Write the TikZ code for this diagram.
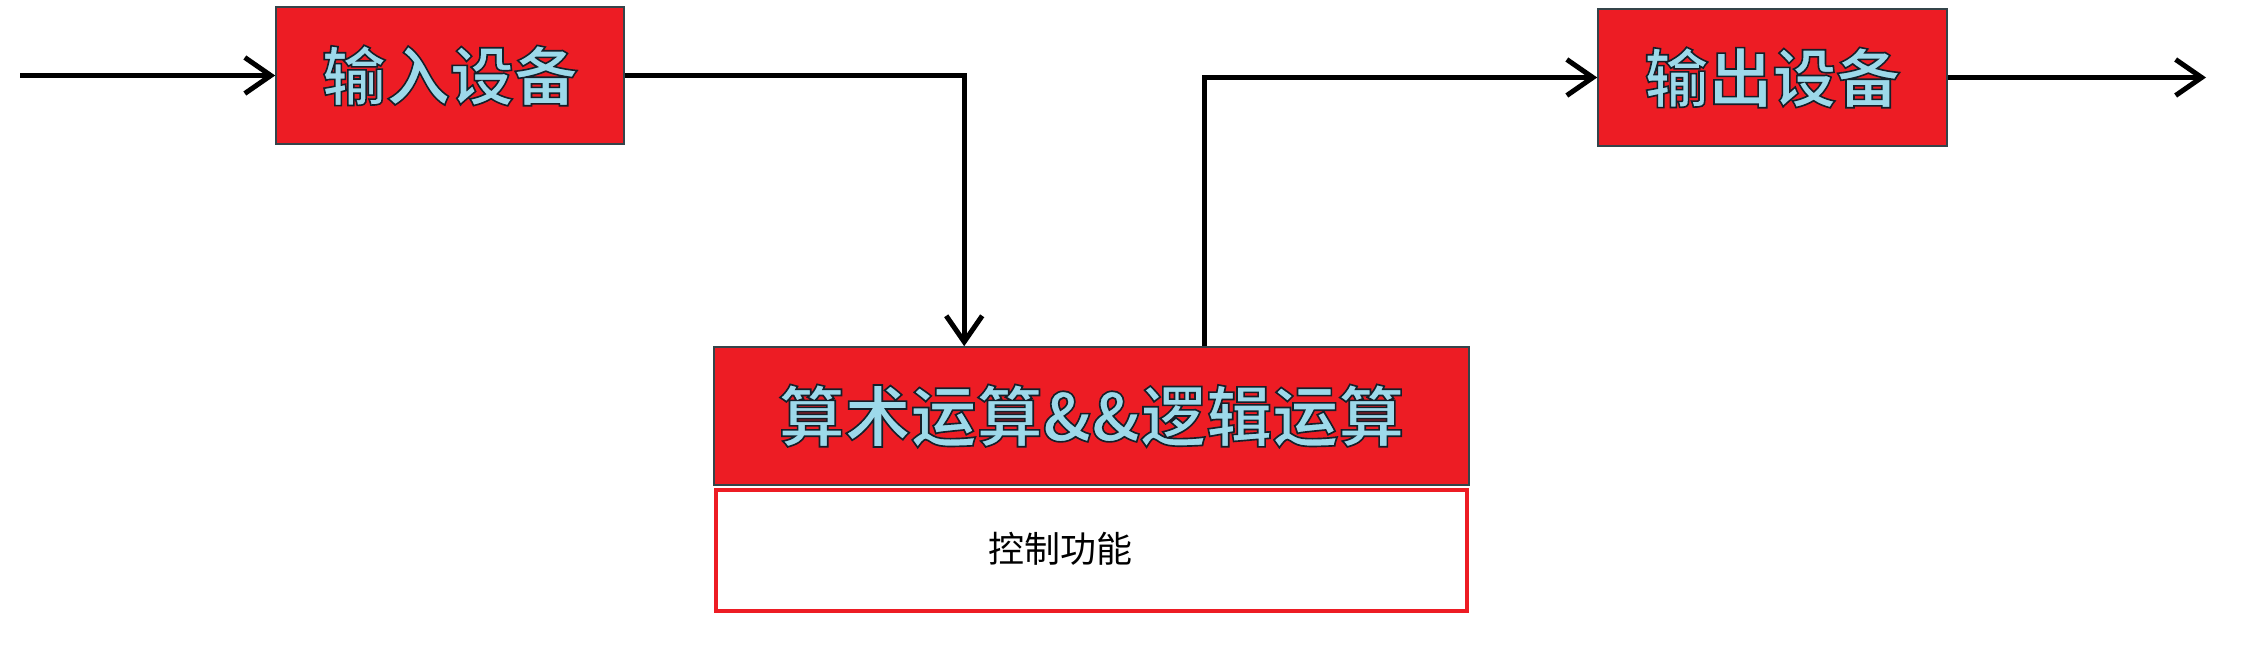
\documentclass[tikz,border=0pt]{standalone}
\usepackage{fontspec}
\setmainfont{Noto Sans CJK SC}
\newfontfamily\artfont[FakeBold=2.5,UprightFont=* Bold]{Noto Sans CJK SC}
\usetikzlibrary{arrows.meta}
\definecolor{boxred}{HTML}{ED1C24}
\definecolor{artblue}{HTML}{9DD9EA}
\definecolor{boxedge}{HTML}{34444A}
\newcommand{\arttext}[1]{{\artfont\color{artblue}\special{pdf:literal direct 0.08 0.12 0.16 RG}#1}}
\tikzset{
  devbox/.style={draw=boxedge, line width=1.6pt, fill=boxred, inner sep=0pt},
  ctrlbox/.style={draw=boxred, line width=4pt, fill=white, inner sep=0pt},
  conn/.style={line width=5pt, -{Straight Barb[length=26pt,width=36pt]}}
}
\begin{document}
\begin{tikzpicture}[x=1pt,y=-1pt]
\useasboundingbox (0,0) rectangle (2258,669);
\node[devbox, minimum width=348pt, minimum height=137pt, font=\fontsize{64}{70}\selectfont] (in) at (450,75.5) {\arttext{输入设备}};
\node[devbox, minimum width=349pt, minimum height=137pt, font=\fontsize{64}{70}\selectfont] (out) at (1772.5,77.5) {\arttext{输出设备}};
\node[devbox, minimum width=755pt, minimum height=138pt, font=\fontsize{66}{74}\selectfont] (arith) at (1091.5,416) {\arttext{算术运算\&\&逻辑运算}};
\node[ctrlbox, minimum width=751pt, minimum height=121pt] (ctrl) at (1091.5,550) {};
\node[font=\fontsize{36}{40}\selectfont, inner sep=0pt] (ctrltext) at (1060,549) {控制功能};
\coordinate (instart) at (20,75.5);
\coordinate (outend) at (2206,77.5);
\draw[conn] (instart) -- (in.west);
\draw[conn] (in.east) -| ([xshift=251pt]arith.north west);
\draw[conn] ([xshift=491pt]arith.north west) |- (out.west);
\draw[conn] (out.east) -- (outend);
\end{tikzpicture}
\end{document}
